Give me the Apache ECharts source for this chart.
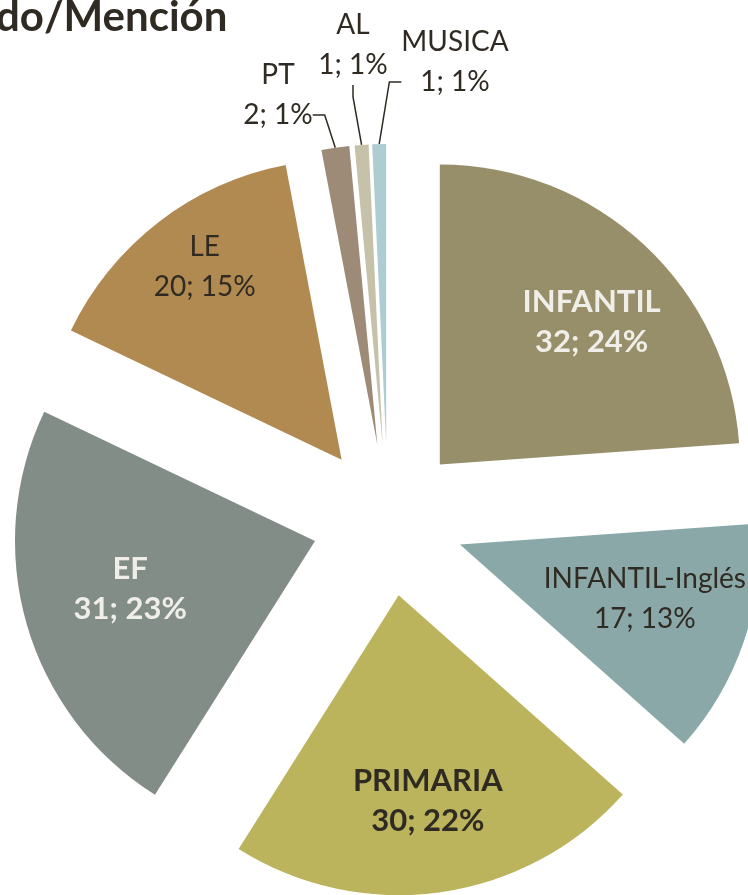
<!DOCTYPE html>
<html style="height: 100%">
<head>
    <meta charset="utf-8">
</head>
<body style="height: 100%; margin: 0; background: #ffffff">
<div id="pie_container" style="height: 895px; width: 748px"></div>
<script src="https://cdn.jsdelivr.net/npm/echarts@6/dist/echarts.min.js"></script>
<script type="text/javascript">

    // datos
    var categories = ['INFANTIL', 'INFANTIL-Inglés', 'PRIMARIA', 'EF', 'LE', 'PT', 'AL', 'MUSICA'];
    var values = [32, 17, 30, 31, 20, 2, 1, 1];
    var colors = ['#968F6A', '#8AA8A8', '#BCB45C', '#838D88', '#B08A50', '#9D8A77', '#C6C2A9', '#ADCDD2'];

    // estilo de las etiquetas de cada porcion
    var boldLabels = ['INFANTIL', 'PRIMARIA', 'EF'];
    var lightLabels = ['INFANTIL', 'EF'];
    // ajuste fino de las etiquetas interiores (px)
    var insideNudge = {'INFANTIL': [10, 10], 'INFANTIL-Inglés': [-12, -13], 'EF': [15, -10], 'LE': [-10, -28]};
    // etiquetas exteriores: posicion y si la linea guia sale de la segunda linea de texto
    var outsideLabelPos = {PT: [278, 115, true], AL: [353, 45, false], MUSICA: [455, 82, true]};

    var darkText = '#2F2A22';
    var lightText = '#F0EEE8';
    var pieCenter = [388, 520];
    var pieRadius = 300;
    var explode = 76;

    var pie_container = document.getElementById('pie_container');
    var pie_chart = echarts.init(pie_container);

    var sliceData = categories.map(function (name, i) {
        return {
            name: name,
            value: values[i],
            selected: true,
            itemStyle: {color: colors[i]}
        };
    });

    var labelData = categories.map(function (name, i) {
        var bold = boldLabels.indexOf(name) >= 0;
        return {
            name: name,
            value: values[i],
            selected: true,
            label: {
                show: !outsideLabelPos[name],
                color: lightLabels.indexOf(name) >= 0 ? lightText : darkText,
                fontWeight: bold ? 'bold' : 'normal',
                fontSize: bold ? 31 : 28
            }
        };
    });

    var outerData = categories.map(function (name, i) {
        var pos = outsideLabelPos[name];
        return {
            name: name,
            value: values[i],
            label: {
                show: !!pos,
                // linea vacia al final para que la guia salga a la altura de la segunda linea
                formatter: pos && pos[2] ? '{b}\n{c}; {d}%\n ' : '{b}\n{c}; {d}%'
            }
        };
    });

    var labelText = {
        fontFamily: 'Lato',
        fontSize: 28,
        lineHeight: 40,
        color: darkText,
        formatter: '{b}\n{c}; {d}%'
    };

    var pie_option = {
        animation: false,
        title: {
            text: 'do/Mención',
            left: -4,
            top: -4,
            padding: 0,
            textStyle: {
                fontFamily: 'Lato',
                fontWeight: 'bold',
                fontSize: 42,
                color: darkText
            }
        },
        series: [
            {
                name: 'porciones',
                type: 'pie',
                center: pieCenter,
                radius: pieRadius,
                startAngle: 90,
                clockwise: true,
                selectedMode: 'multiple',
                selectedOffset: explode,
                itemStyle: {borderWidth: 0},
                emphasis: {disabled: true},
                label: {show: false},
                labelLine: {show: false},
                data: sliceData
            },
            {
                // serie transparente: etiquetas interiores
                name: 'etiquetas',
                type: 'pie',
                center: pieCenter,
                radius: [110, pieRadius],
                startAngle: 90,
                clockwise: true,
                selectedMode: 'multiple',
                selectedOffset: explode,
                percentPrecision: 0,
                silent: true,
                itemStyle: {color: 'transparent', borderWidth: 0},
                emphasis: {disabled: true},
                label: Object.assign({position: 'inside'}, labelText),
                labelLine: {show: false},
                labelLayout: function (p) {
                    var n = insideNudge[categories[p.dataIndex]];
                    return n ? {dx: n[0], dy: n[1]} : {};
                },
                data: labelData
            },
            {
                // anillo transparente en el borde exterior de las porciones pequenas:
                // etiquetas exteriores con su linea guia
                name: 'exteriores',
                type: 'pie',
                center: pieCenter,
                radius: [pieRadius + explode - 6, pieRadius + explode],
                startAngle: 90,
                clockwise: true,
                percentPrecision: 0,
                silent: true,
                avoidLabelOverlap: false,
                itemStyle: {color: 'transparent', borderWidth: 0},
                emphasis: {disabled: true},
                label: Object.assign({position: 'outside'}, labelText),
                labelLine: {
                    show: true,
                    length: 15,
                    length2: 12,
                    lineStyle: {color: darkText, width: 1.5}
                },
                labelLayout: function (p) {
                    var pos = outsideLabelPos[categories[p.dataIndex]];
                    if (!pos) {
                        return {};
                    }
                    return {x: pos[0], y: pos[1], align: 'center', verticalAlign: 'middle'};
                },
                data: outerData
            }
        ]
    };

    pie_chart.setOption(pie_option, true);
</script>
</body>
</html>
